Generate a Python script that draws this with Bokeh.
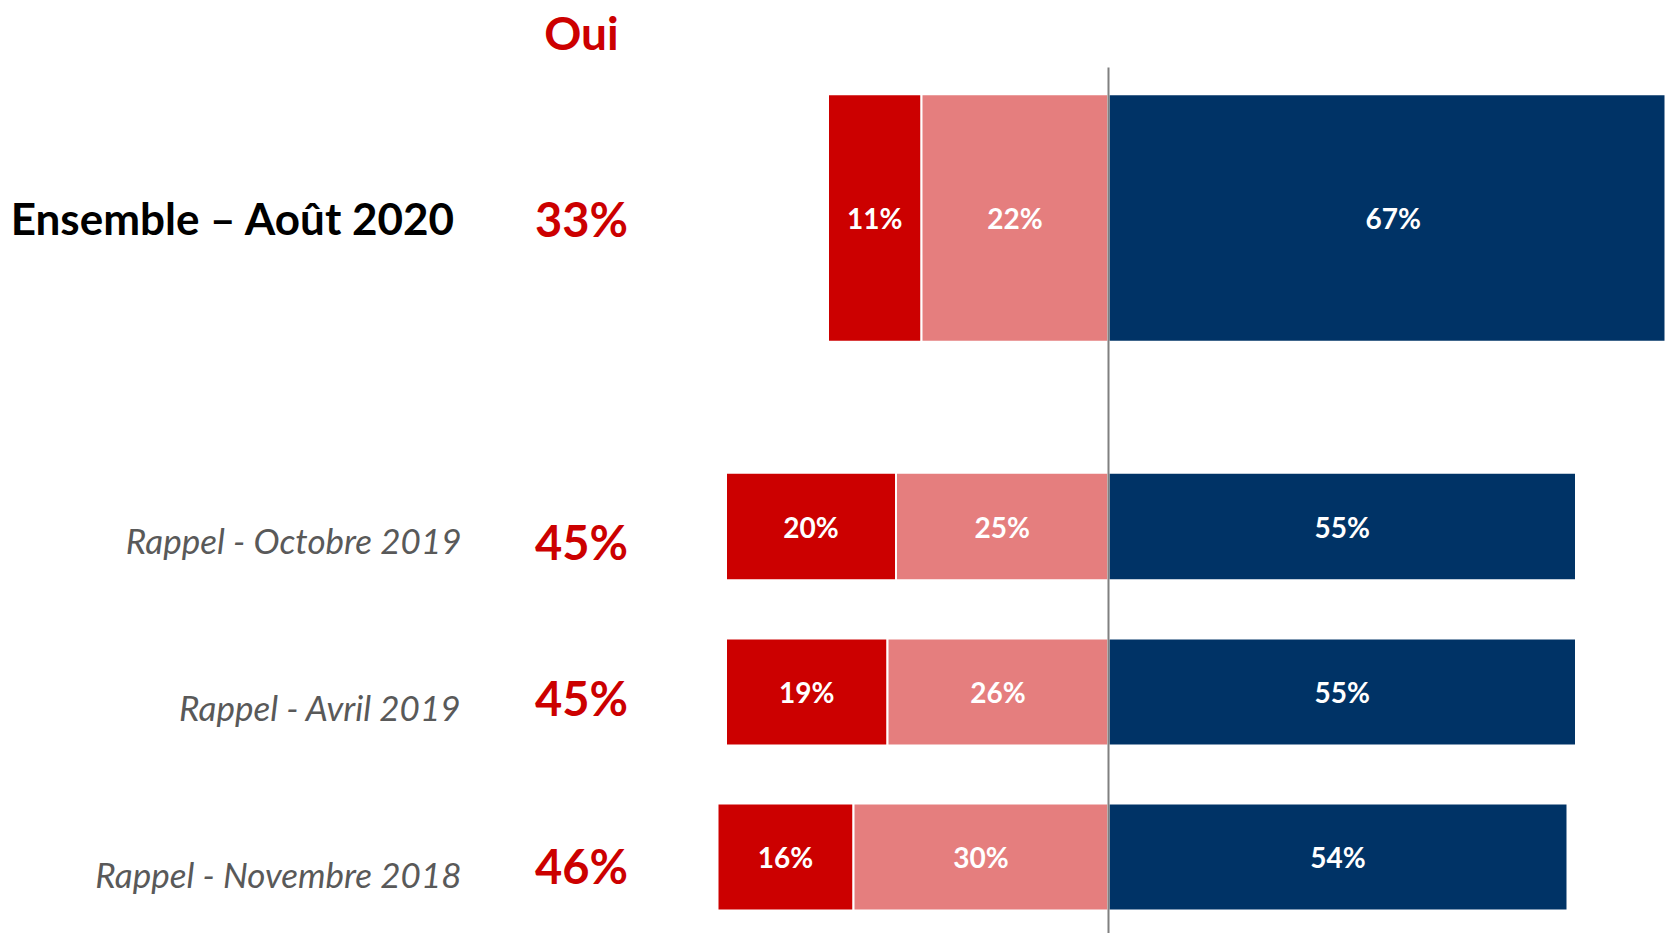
from bokeh.plotting import figure
from bokeh.models import Range1d, ColumnDataSource
from bokeh.embed import file_html
from bokeh.resources import INLINE
from bokeh.core.properties import value

# ---- data ----
rows = ["Ensemble – Août 2020", "Rappel - Octobre 2019", "Rappel - Avril 2019", "Rappel - Novembre 2018"]
oui_tout_a_fait = [11, 20, 19, 16]
oui_plutot = [22, 25, 26, 30]
non = [67, 55, 55, 54]
oui_total = [33, 45, 45, 46]
header = "Oui"

# ---- layout (pixels of the plot area) ----
W, H = 1665, 933
ZERO_PX = 1108.0
K = 8.5  # px per percentage point

row_center = [217.5, 526.0, 691.5, 856.5]
row_height = [247.5, 107.5, 107.0, 107.0]
oui_label_y = [218.0, 541.5, 697.0, 865.5]
row_label_y = [217.0, 539.5, 706.0, 873.0]

DARK_RED = "#CC0000"
PINK = "#E57E7E"
NAVY = "#003366"

def px2x(px):
    return (px - ZERO_PX) / K

p = figure(width=W, height=H, output_backend="svg", toolbar_location=None,
           x_range=Range1d(px2x(0), px2x(W)), y_range=Range1d(H, 0),
           min_border=0, outline_line_color=None)
p.axis.visible = False
p.grid.visible = False
p.background_fill_color = "white"
p.border_fill_color = "white"

# stacked bars: diverging at zero
left_dark = [-(a + b) for a, b in zip(oui_tout_a_fait, oui_plutot)]
right_dark = [-b for b in oui_plutot]
src = ColumnDataSource(dict(
    y=row_center, h=row_height,
    l1=left_dark, r1=right_dark,
    l2=right_dark, r2=[0] * len(rows),
    l3=[0] * len(rows), r3=non,
))
p.hbar(y="y", height="h", left="l1", right="r1", source=src,
       fill_color=DARK_RED, line_color="white", line_width=2)
p.hbar(y="y", height="h", left="l2", right="r2", source=src,
       fill_color=PINK, line_color="white", line_width=2)
p.hbar(y="y", height="h", left="l3", right="r3", source=src,
       fill_color=NAVY, line_color="white", line_width=2)

# zero line
p.segment(x0=[0], y0=[67], x1=[0], y1=[H + 5], line_color="#808080", line_width=2)

# in-bar labels
lab_x, lab_y, lab_t = [], [], []
for i in range(len(rows)):
    a, b, c = oui_tout_a_fait[i], oui_plutot[i], non[i]
    lab_x += [-(b + a / 2), -b / 2, c / 2]
    lab_y += [row_center[i]] * 3
    lab_t += [f"{a}%", f"{b}%", f"{c}%"]
p.text(x=lab_x, y=lab_y, text=lab_t, text_color="white",
       text_font=value("Lato"), text_font_style="bold", text_font_size="28px",
       text_align="center", text_baseline="middle")

# "Oui" column
oui_x = px2x(581)
p.text(x=[oui_x], y=[32], text=[header], text_color=DARK_RED,
       text_font=value("Lato"), text_font_style="bold", text_font_size="46px",
       text_align="center", text_baseline="middle")
p.text(x=[oui_x] * len(rows), y=oui_label_y, text=[f"{v}%" for v in oui_total],
       text_color=DARK_RED, text_font=value("Lato"), text_font_style="bold",
       text_font_size="47px", text_align="center", text_baseline="middle")

# row labels
p.text(x=[px2x(455)], y=[row_label_y[0]], text=[rows[0]], text_color="black",
       text_font=value("Lato"), text_font_style="bold", text_font_size="44px",
       text_align="right", text_baseline="middle")
p.text(x=[px2x(461)] * 3, y=row_label_y[1:], text=rows[1:], text_color="#595959",
       text_font=value("Lato"), text_font_style="italic", text_font_size="35px",
       text_align="right", text_baseline="middle")

open("out.html", "w").write(file_html(p, INLINE))
